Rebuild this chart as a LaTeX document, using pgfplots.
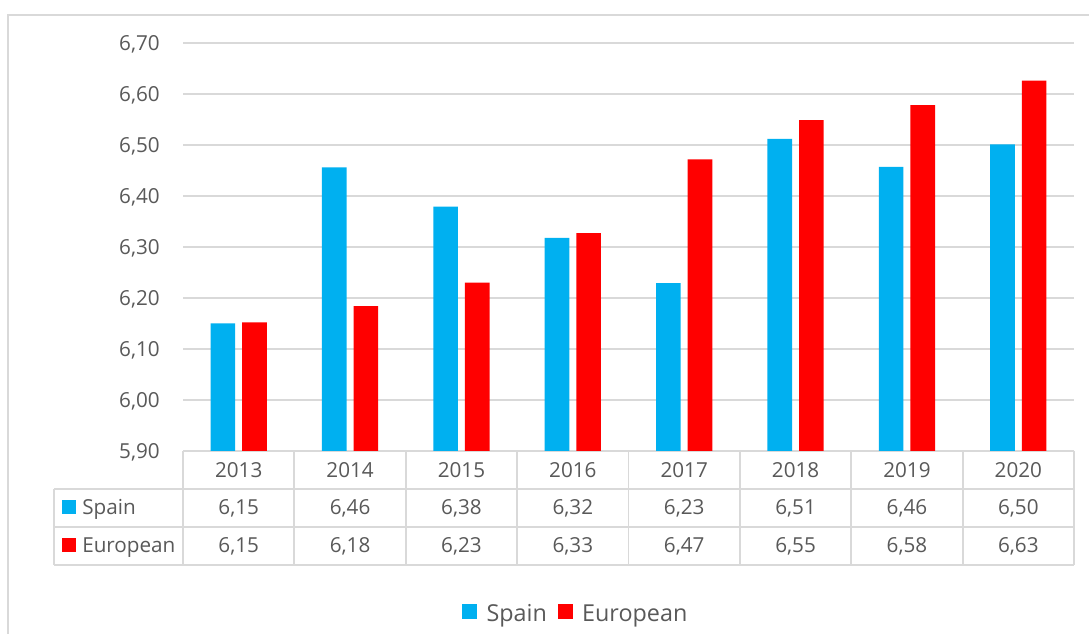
\documentclass[border=0pt]{standalone}
\usepackage{pgfplots}
\pgfplotsset{compat=1.18}
\usepackage{pgfplotstable}
\usepackage{fontspec}
\setmainfont{Open Sans}
\definecolor{spainblue}{HTML}{00B0F0}
\definecolor{eured}{HTML}{FF0000}
\definecolor{txt}{HTML}{595959}
\definecolor{gridc}{HTML}{D9D9D9}

\pgfplotstableread{
x year spain european
0 2013 6.150 6.152
1 2014 6.456 6.184
2 2015 6.379 6.230
3 2016 6.318 6.327
4 2017 6.229 6.472
5 2018 6.512 6.549
6 2019 6.457 6.578
7 2020 6.501 6.626
}\data

\newcommand{\tabfont}{\fontsize{15.5}{18}\selectfont}

\pgfplotsset{
  sqlegend/.style={legend image code/.code={\fill[##1,/tikz/.cd] (0pt,-4pt) rectangle (11.5pt,7.5pt); \path (16.5pt,0pt);}},
  common/.style={
  width=668.25pt, height=306pt, scale only axis,
  at={(137.25pt,137.25pt)}, anchor=south west,
  xmin=-0.5, xmax=7.5, ymin=5.9, ymax=6.7,
  /pgf/number format/fixed,
  /pgf/number format/fixed zerofill,
  /pgf/number format/precision=2,
  /pgf/number format/use comma,
  /pgf/number format/assume math mode=true,
}}

\begin{document}
\begin{tikzpicture}
\useasboundingbox (0,0) rectangle (816.75pt,475.5pt);
\fill[white] (0,0) rectangle (816.75pt,475.5pt);

% frame
\draw[gridc, line width=1.5pt] (6.2pt,-5pt) -- (6.2pt,464.5pt) -- (830pt,464.5pt);

\begin{axis}[common,
  axis line style={draw=none},
  tick style={draw=none},
  ymajorgrids,
  major grid style={gridc, line width=1.4pt},
  ytick={5.9,6,6.1,6.2,6.3,6.4,6.5,6.6,6.7},
  yticklabel style={font=\tabfont, text=txt, anchor=east, inner sep=0pt, text depth=0pt, xshift=-17.25pt},
  xtick={0,...,7},
  xticklabels from table={\data}{year},
  xticklabel style={font=\tabfont, text=txt, anchor=base, inner sep=0pt, yshift=-20.25pt},
  legend style={at={(0.441,-0.3995)}, anchor=center, draw=none, fill=none,
    legend columns=2, font=\fontsize{17.5}{20}\selectfont, text=txt,
    /tikz/every even column/.append style={column sep=6pt}},
]
\addplot[ybar, bar width=18.5pt, bar shift=-11.85pt, draw=none, fill=spainblue, sqlegend]
  table[x=x, y=spain] {\data};
\addlegendentry{Spain}
\addplot[ybar, bar width=18.5pt, bar shift=11.85pt, draw=none, fill=eured, sqlegend]
  table[x=x, y=european] {\data};
\addlegendentry{European}
\end{axis}

\begin{axis}[common, hide axis, clip=false]
\addplot[draw=none, mark=none, nodes near coords, point meta=explicit,
  every node near coord/.append style={anchor=base, inner sep=0pt, yshift=-48pt, font=\tabfont, text=txt}]
  table[x=x, y expr=5.9, meta=spain] {\data};
\addplot[draw=none, mark=none, nodes near coords, point meta=explicit,
  every node near coord/.append style={anchor=base, inner sep=0pt, yshift=-76.5pt, font=\tabfont, text=txt}]
  table[x=x, y expr=5.9, meta=european] {\data};
\end{axis}

% data table grid and row keys (pixel coordinates of the reference)
\begin{scope}[x=0.75pt, y=-0.75pt, yshift=475.5pt]
  \draw[gridc, line width=1.4pt] (54,489) -- (1074,489);
  \draw[gridc, line width=1.4pt] (54,527) -- (1074,527);
  \draw[gridc, line width=1.4pt] (54,565) -- (1074,565);
  \draw[gridc, line width=1.4pt] (54,489) -- (54,565);
  \foreach \k in {0,...,8} {
    \draw[gridc, line width=1.4pt] ({183+\k*111.375},451) -- ({183+\k*111.375},565);
  }
  \fill[spainblue] (62,500) rectangle (76,514);
  \fill[eured] (62,538) rectangle (76,552);
  \node[anchor=base west, inner sep=0pt, font=\tabfont, text=txt] at (82,515) {Spain};
  \node[anchor=base west, inner sep=0pt, font=\tabfont, text=txt] at (82,553) {European};
\end{scope}
\end{tikzpicture}
\end{document}
